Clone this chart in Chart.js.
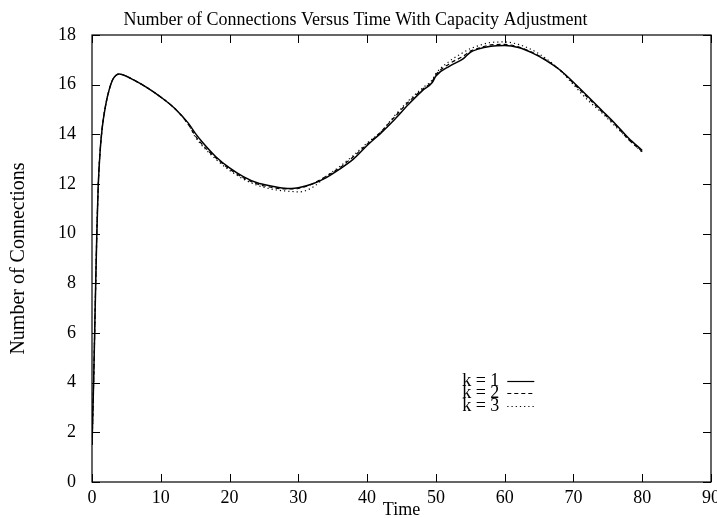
<!DOCTYPE html>
<html>
<head>
<meta charset="utf-8">
<script src="https://cdn.jsdelivr.net/npm/chart.js@4/dist/chart.umd.min.js"></script>
<style>
  html, body { margin: 0; padding: 0; background: #fff; }
  canvas { display: block; }
</style>
</head>
<body>
<canvas id="c" width="717" height="518"></canvas>
<script>
const times = [0, 0.1, 0.25, 0.5, 0.7, 0.9, 1.2, 1.5, 2, 2.5, 3, 3.5, 4, 5, 6, 8, 10, 12, 14, 15, 16, 18, 20, 22, 24, 26, 28, 29, 30, 32, 34, 36, 38, 40, 42, 44, 46, 48, 49.5, 50, 52, 54, 55, 56, 58, 60, 62, 64, 66, 68, 70, 72, 74, 76, 78, 80];

const k1 = [1.5, 2.5, 4.2, 7.5, 10.0, 11.9, 13.4, 14.3, 15.2, 15.8, 16.2, 16.38, 16.43, 16.34, 16.2, 15.88, 15.5, 15.05, 14.45, 14.05, 13.7, 13.1, 12.65, 12.3, 12.05, 11.92, 11.83, 11.82, 11.85, 12.0, 12.25, 12.6, 13.0, 13.55, 14.05, 14.6, 15.2, 15.75, 16.1, 16.35, 16.75, 17.05, 17.3, 17.42, 17.55, 17.58, 17.5, 17.28, 16.98, 16.6, 16.1, 15.55, 15.0, 14.45, 13.85, 13.35];

const k2 = [1.5, 2.5, 4.2, 7.5, 10.0, 11.9, 13.4, 14.3, 15.2, 15.8, 16.2, 16.38, 16.43, 16.34, 16.2, 15.88, 15.5, 15.05, 14.4, 13.95, 13.6, 13.05, 12.6, 12.25, 12.0, 11.87, 11.8, 11.8, 11.82, 12.0, 12.3, 12.65, 13.1, 13.6, 14.1, 14.7, 15.3, 15.8, 16.15, 16.4, 16.85, 17.15, 17.35, 17.45, 17.6, 17.62, 17.52, 17.3, 17.0, 16.6, 16.05, 15.5, 14.95, 14.4, 13.8, 13.3];

const k3 = [1.5, 2.5, 4.2, 7.5, 10.0, 11.9, 13.4, 14.3, 15.2, 15.8, 16.2, 16.38, 16.43, 16.34, 16.2, 15.88, 15.5, 15.05, 14.4, 13.9, 13.55, 13.0, 12.55, 12.2, 11.95, 11.8, 11.72, 11.7, 11.68, 11.85, 12.3, 12.7, 13.15, 13.65, 14.1, 14.75, 15.35, 15.85, 16.2, 16.45, 16.95, 17.3, 17.45, 17.55, 17.7, 17.72, 17.62, 17.4, 17.05, 16.6, 16.0, 15.4, 14.9, 14.35, 13.8, 13.28];

const seriesLabels = ['k = 1', 'k = 2', 'k = 3'];
const xTicks = [0, 10, 20, 30, 40, 50, 60, 70, 80, 90];
const yTicks = [0, 2, 4, 6, 8, 10, 12, 14, 16, 18];

const FONT = 'Liberation Serif, Times New Roman, serif';

function pts(ys) { return times.map((t, i) => ({ x: t, y: ys[i] })); }

const dashes = [[], [4, 3], [1.2, 3]];

const framePlugin = {
  id: 'frame',
  afterDraw(chart) {
    const { ctx, chartArea: a, scales } = chart;
    ctx.save();
    ctx.strokeStyle = '#000';
    ctx.lineWidth = 1.2;
    ctx.strokeRect(a.left, a.top, a.right - a.left, a.bottom - a.top);
    const L = 8;
    ctx.beginPath();
    xTicks.forEach(v => {
      const px = Math.round(scales.x.getPixelForValue(v)) + 0.5;
      ctx.moveTo(px, a.bottom); ctx.lineTo(px, a.bottom - L);
      ctx.moveTo(px, a.top); ctx.lineTo(px, a.top + L);
    });
    yTicks.forEach(v => {
      const py = Math.round(scales.y.getPixelForValue(v)) + 0.5;
      ctx.moveTo(a.left, py); ctx.lineTo(a.left + L, py);
      ctx.moveTo(a.right, py); ctx.lineTo(a.right - L, py);
    });
    ctx.lineWidth = 1;
    ctx.stroke();

    // legend inside the plot
    const textRight = a.left + (a.right - a.left) * 0.658;
    const lineStart = textRight + 8;
    const lineEnd = lineStart + 27;
    const y0 = a.top + (a.bottom - a.top) * 0.774;
    ctx.font = '18px ' + FONT;
    ctx.fillStyle = '#000';
    ctx.textAlign = 'right';
    ctx.textBaseline = 'middle';
    chart.data.datasets.forEach((ds, i) => {
      const y = y0 + i * 12.5;
      ctx.fillText(ds.label, textRight, y);
      ctx.beginPath();
      ctx.setLineDash(ds.borderDash || []);
      ctx.lineWidth = 1.2;
      ctx.moveTo(lineStart, Math.round(y) + 0.5);
      ctx.lineTo(lineEnd, Math.round(y) + 0.5);
      ctx.stroke();
    });
    ctx.restore();
  }
};

const bgPlugin = {
  id: 'bg',
  beforeDraw(chart) {
    const ctx = chart.ctx;
    ctx.save();
    ctx.fillStyle = '#fff';
    ctx.fillRect(0, 0, chart.width, chart.height);
    ctx.restore();
  }
};

new Chart(document.getElementById('c'), {
  type: 'line',
  data: {
    datasets: [k1, k2, k3].map((ys, i) => ({
      label: seriesLabels[i],
      data: pts(ys),
      borderColor: '#000',
      borderWidth: i === 0 ? 1.5 : 1.2,
      borderDash: dashes[i],
      pointRadius: 0,
      fill: false,
      cubicInterpolationMode: 'monotone'
    }))
  },
  options: {
    responsive: false,
    animation: false,
    layout: { padding: { left: 0, right: 6, top: 0, bottom: -3 } },
    plugins: {
      legend: { display: false },
      tooltip: { enabled: false },
      title: {
        display: true,
        text: 'Number of Connections Versus Time With Capacity Adjustment',
        color: '#000',
        font: { family: FONT, size: 18, weight: 'normal', lineHeight: 1.2 },
        padding: { top: 9, bottom: 4.4 }
      }
    },
    scales: {
      x: {
        type: 'linear',
        min: 0, max: 90,
        afterBuildTicks(s) { s.ticks = xTicks.map(v => ({ value: v })); },
        ticks: { color: '#000', font: { family: FONT, size: 18 }, padding: -3, maxRotation: 0, autoSkip: false },
        grid: { display: false },
        border: { display: false },
        title: { display: true, text: 'Time', color: '#000', font: { family: FONT, size: 18 }, padding: 0 },
        afterFit(s) { s.height = 39; s.paddingLeft = 0; s.paddingRight = 0; }
      },
      y: {
        type: 'linear',
        min: 0, max: 18,
        afterBuildTicks(s) { s.ticks = yTicks.map(v => ({ value: v })); },
        ticks: { color: '#000', font: { family: FONT, size: 18 }, padding: 8, autoSkip: false },
        grid: { display: false },
        border: { display: false },
        title: { display: true, text: 'Number of Connections', color: '#000', font: { family: FONT, size: 20 }, padding: 7 },
        afterFit(s) { s.width = 92; s.paddingTop = 0; s.paddingBottom = 0; }
      }
    }
  },
  plugins: [bgPlugin, framePlugin]
});
</script>
</body>
</html>
